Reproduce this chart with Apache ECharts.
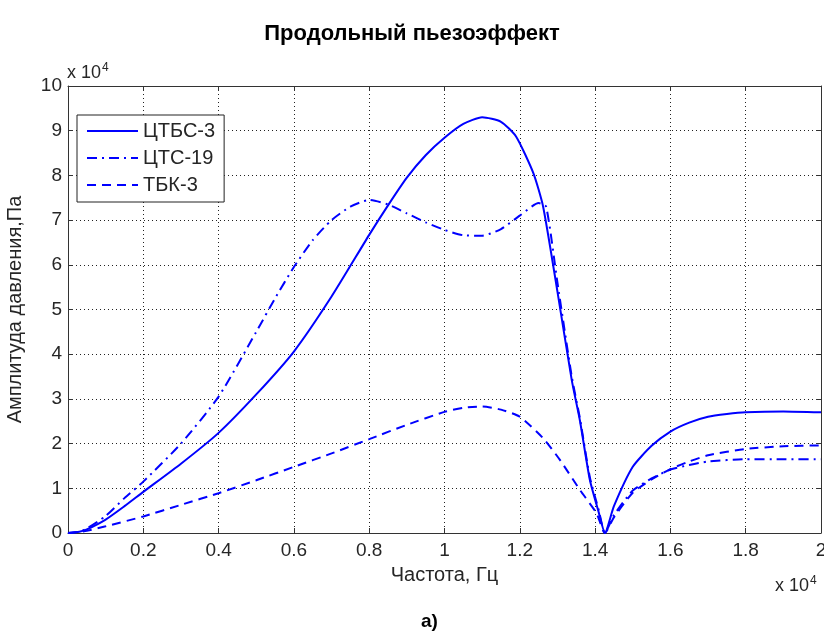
<!DOCTYPE html>
<html><head><meta charset="utf-8">
<script src="https://cdn.jsdelivr.net/npm/echarts@6/dist/echarts.min.js"></script>
<style>html,body{margin:0;padding:0;background:#fff}#c{width:824px;height:631px}</style>
</head><body><div id="c"></div>
<script>
// x in units of 1e4 Hz, y in units of 1e4 Pa
const xTicks = [0,0.2,0.4,0.6,0.8,1,1.2,1.4,1.6,1.8,2];
const yTicks = [0,1,2,3,4,5,6,7,8,9,10];
const seriesNames = ['ЦТБС-3','ЦТС-19','ТБК-3'];
const ctbsX = [0,0.03,0.05,0.1,0.15,0.2,0.3,0.4,0.5,0.6,0.7,0.8,0.85,0.9,0.95,1.0,1.05,1.1,1.15,1.19,1.236,1.262,1.3,1.338,1.36,1.386,1.41,1.426,1.45,1.5,1.55,1.6,1.65,1.7,1.75,1.8,1.9,2.0];
const ctbsY = [0,0.03,0.08,0.3,0.6,0.92,1.55,2.24,3.1,4.06,5.29,6.67,7.33,7.95,8.45,8.84,9.15,9.3,9.2,8.87,8.05,7.3,5.4,3.42,2.5,1.19,0.45,0,0.6,1.48,1.95,2.27,2.47,2.6,2.66,2.7,2.72,2.7];
const ctsX = [0,0.03,0.05,0.1,0.15,0.2,0.3,0.4,0.5,0.55,0.6,0.65,0.7,0.75,0.8,0.85,0.9,0.95,1.0,1.05,1.1,1.15,1.2,1.25,1.27,1.3,1.338,1.36,1.386,1.41,1.426,1.45,1.5,1.55,1.6,1.65,1.7,1.8,1.9,2.0];
const ctsY = [0,0.03,0.1,0.38,0.78,1.15,2.0,3.05,4.5,5.25,5.95,6.55,7.0,7.3,7.45,7.35,7.15,6.95,6.78,6.66,6.65,6.8,7.1,7.38,7.3,5.6,3.5,2.55,1.25,0.5,0,0.4,0.95,1.22,1.42,1.52,1.6,1.65,1.65,1.65];
const tbkX = [0,0.03,0.05,0.1,0.2,0.3,0.4,0.5,0.6,0.7,0.8,0.9,1.0,1.05,1.1,1.15,1.2,1.262,1.307,1.36,1.404,1.426,1.45,1.5,1.55,1.6,1.65,1.7,1.8,1.9,2.0];
const tbkY = [0,0.02,0.05,0.15,0.37,0.63,0.89,1.18,1.48,1.78,2.1,2.42,2.71,2.8,2.83,2.76,2.6,2.12,1.63,0.96,0.44,0,0.35,0.9,1.2,1.43,1.6,1.74,1.88,1.94,1.96];

const zip = (a,b)=>a.map((v,i)=>[v,b[i]]);
const blue = '#0000ff';
const axisCol = '#333';
const txtCol = '#262626';
const font = 'Liberation Sans, Arial, sans-serif';
const chart = echarts.init(document.getElementById('c'));
const gridLine = {show:true,lineStyle:{color:'#222',type:[1,3],width:1}};
const mkSeries = (name, data, type)=>({
  name, type:'line', data, showSymbol:false, symbol:'none', smooth:0.2,
  lineStyle:{color:blue,width:2,type}, itemStyle:{color:blue}, xAxisIndex:0, yAxisIndex:0
});
const sup = {s:{fontSize:12,verticalAlign:'top',padding:[0,0,10,1],fontFamily:font,fill:txtCol}};
chart.setOption({
  animation:false,
  backgroundColor:'#fff',
  title:[
    {text:'Продольный пьезоэффект',left:'center',top:18,textStyle:{fontFamily:font,fontSize:22,fontWeight:'bold',color:'#000'}},
    {text:'а)',left:416,top:607,textStyle:{fontFamily:font,fontSize:19,fontWeight:'bold',color:'#000'}}
  ],
  grid:{left:68,top:86,right:3,bottom:98,containLabel:false,outerBoundsMode:'none'},
  legend:{
    left:77,top:115,orient:'vertical',data:seriesNames,
    itemWidth:51,itemHeight:14,itemGap:7,
    backgroundColor:'#fff',borderColor:'#222',borderWidth:1,padding:[6,9,7,9],
    itemStyle:{opacity:0,borderWidth:0},
    textStyle:{fontFamily:font,fontSize:20,color:txtCol}
  },
  xAxis:[
    {type:'value',min:0,max:2,interval:0.2,
     name:'Частота, Гц',nameLocation:'middle',nameGap:32,
     nameTextStyle:{fontFamily:font,fontSize:20,color:txtCol},
     axisLine:{show:true,onZero:false,lineStyle:{color:axisCol,width:1}},
     axisTick:{show:true,inside:true,length:5,lineStyle:{color:axisCol}},
     axisLabel:{fontFamily:font,fontSize:19,color:txtCol,margin:8,
       formatter:v=>{const t=xTicks.find(x=>Math.abs(x-v)<1e-6);return t===undefined?'':String(t);}},
     splitLine:gridLine},
    {type:'value',min:0,max:2,interval:0.2,position:'top',
     axisLine:{show:true,onZero:false,lineStyle:{color:axisCol,width:1}},
     axisTick:{show:true,inside:true,length:5,lineStyle:{color:axisCol}},
     axisLabel:{show:false},splitLine:{show:false}}
  ],
  yAxis:[
    {type:'value',min:0,max:10,interval:1,
     name:'Амплитуда давления,Па',nameLocation:'middle',nameGap:43,nameRotate:90,
     nameTextStyle:{fontFamily:font,fontSize:20,color:txtCol},
     axisLine:{show:true,onZero:false,lineStyle:{color:axisCol,width:1}},
     axisTick:{show:true,inside:true,length:5,lineStyle:{color:axisCol}},
     axisLabel:{fontFamily:font,fontSize:19,color:txtCol,margin:6,
       formatter:v=>{const t=yTicks.find(y=>Math.abs(y-v)<1e-6);return t===undefined?'':String(t);}},
     splitLine:gridLine},
    {type:'value',min:0,max:10,interval:1,position:'right',
     axisLine:{show:true,onZero:false,lineStyle:{color:axisCol,width:1}},
     axisTick:{show:true,inside:true,length:5,lineStyle:{color:axisCol}},
     axisLabel:{show:false},splitLine:{show:false}}
  ],
  graphic:[
    {type:'text',left:67,top:62,style:{text:'x 10{s|4}',rich:sup,fontFamily:font,fontSize:18,fill:txtCol}},
    {type:'text',left:775,top:575,style:{text:'x 10{s|4}',rich:sup,fontFamily:font,fontSize:18,fill:txtCol}}
  ],
  series:[
    mkSeries(seriesNames[0], zip(ctbsX,ctbsY), 'solid'),
    mkSeries(seriesNames[1], zip(ctsX,ctsY), [10,5,2,5]),
    mkSeries(seriesNames[2], zip(tbkX,tbkY), [9,6])
  ]
});
</script></body></html>
